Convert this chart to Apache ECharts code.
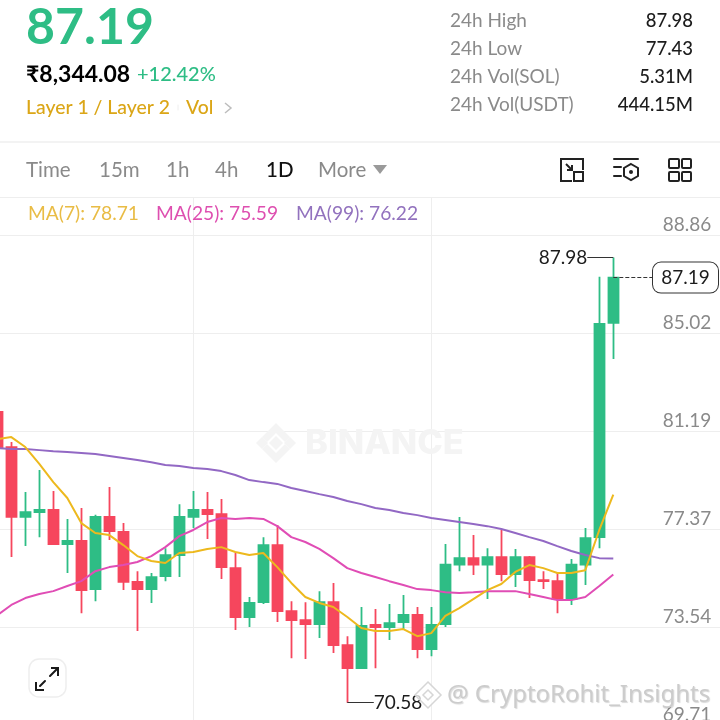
<!DOCTYPE html>
<html>
<head>
<meta charset="utf-8">
<style>html,body{margin:0;padding:0;background:#fff}#c{width:720px;height:720px}</style>
<script src="https://cdn.jsdelivr.net/npm/echarts@6/dist/echarts.min.js"></script>
</head>
<body>
<div id="c"></div>
<script>
const opens  = [81.94,80.57,77.84,78.03,78.11,76.78,76.90,75.02,77.84,77.25,75.30,75.02,75.53,76.35,77.84,78.11,77.95,75.84,73.93,74.51,76.74,74.16,73.81,73.65,74.51,72.83,71.93,73.62,73.54,73.73,74.01,72.68,73.65,75.98,76.23,75.98,76.27,75.61,76.27,75.37,75.33,74.63,75.98,77.05,85.42];
const closes = [80.57,77.84,78.03,78.11,76.78,76.90,74.98,77.84,77.29,75.30,75.02,75.49,76.35,77.84,78.11,77.95,75.88,73.93,74.48,76.74,74.16,73.81,73.65,74.51,72.83,71.93,73.58,73.54,73.69,74.01,72.68,73.62,75.98,76.23,75.98,76.27,75.61,76.27,75.37,75.33,74.63,75.98,77.01,85.38,87.19];
const lows   = [80.57,76.27,76.70,77.05,76.78,75.65,74.08,74.55,76.94,74.98,73.38,74.48,75.33,75.49,77.41,76.98,75.41,73.42,73.54,74.44,73.73,72.32,72.29,73.11,72.52,70.58,71.93,71.93,73.03,73.42,72.32,72.40,73.54,75.72,75.57,74.63,75.33,75.10,74.67,75.02,74.08,74.40,75.18,76.62,84.01];
const highs  = [81.94,80.77,78.81,79.67,78.85,77.76,78.19,77.92,79.01,77.60,75.72,75.65,76.62,78.34,78.85,78.81,78.54,76.43,74.71,77.05,77.52,74.55,74.51,74.94,75.26,73.18,74.32,74.24,74.44,74.79,74.32,74.32,76.78,77.84,77.13,76.62,77.33,76.59,76.31,75.72,75.65,76.20,77.41,87.22,87.98];
const ma7    = [80.88,80.96,80.57,79.91,79.20,78.58,77.60,77.21,77.13,76.74,76.31,76.12,76.04,76.43,76.47,76.59,76.66,76.47,76.35,76.43,75.88,75.26,74.71,74.48,74.32,73.93,73.50,73.38,73.38,73.46,73.18,73.30,73.97,74.28,74.63,74.98,75.22,75.69,75.96,75.84,75.65,75.65,75.76,77.33,78.71];
const ma25   = [74.00,74.40,74.67,74.83,74.94,75.14,75.33,75.72,75.88,75.96,76.08,76.31,76.66,77.09,77.33,77.64,77.80,77.76,77.80,77.76,77.48,77.05,76.86,76.59,76.23,75.84,75.65,75.49,75.33,75.18,75.02,74.98,74.90,74.87,74.90,74.94,74.94,74.94,74.83,74.71,74.59,74.59,74.71,75.14,75.59];
const ma99   = [80.53,80.49,80.49,80.45,80.41,80.38,80.34,80.30,80.22,80.14,80.06,79.98,79.87,79.83,79.75,79.71,79.63,79.48,79.28,79.20,79.13,78.97,78.85,78.73,78.62,78.46,78.34,78.19,78.11,77.99,77.91,77.80,77.72,77.64,77.56,77.48,77.37,77.21,77.05,76.90,76.70,76.51,76.35,76.23,76.22];
const tickLabels = ['69.71','73.54','77.37','81.19','85.02','88.86'];
const categories = [];
for (let d = 0; d < 53; d++) categories.push('D' + d);

const FONT = 'Lato';
const GREEN = '#2EBD85', RED = '#F6465D', GOLD = '#DBA617', GREY = '#8A8A8A', INK = '#1C1C1C';
const candles = opens.map((o, i) => [o, closes[i], lows[i], highs[i]]);

function txt(x, y, text, size, fill, weight, align) {
  return {type:'text', x, y, z:50, style:{text, fontFamily:FONT, fontSize:size, fill, fontWeight:weight||400,
    align:align||'left', verticalAlign:'middle'}};
}
function ln(x1,y1,x2,y2,stroke,w){return {type:'line',z:50,shape:{x1,y1,x2,y2},style:{stroke,lineWidth:w||2,lineCap:'round'}};}
function box(x,y,width,height,stroke,w,r,fill){return {type:'rect',z:50,shape:{x,y,width,height,r:r||0},style:{stroke,lineWidth:w||2,fill:fill||'none'}};}
function poly(points,fill,z){return {type:'polygon',z:z||1,shape:{points},style:{fill}};}
function pl(points,stroke,w){return {type:'polyline',z:50,shape:{points},style:{stroke,lineWidth:w||2,fill:'none'}};}

const wm = '#F4F4F4';
const graphics = [
  txt(26,28,'87.19',50,GREEN,700),
  txt(26,75,'₹8,344.08',23,'#000',700),
  txt(137,75,'+12.42%',20,GREEN,500),
  txt(26,108,'Layer 1 / Layer 2',19.4,GOLD,500),
  txt(186,108,'Vol',19.4,GOLD,500),
  ln(178,105,178,110,'#eeeeee',1),
  pl([[225,103],[231,108],[225,113]],'#BDBDBD',1.5),
  txt(450,21,'24h High',19,GREY),txt(450,49,'24h Low',19,GREY),txt(450,77,'24h Vol(SOL)',19,GREY),txt(450,105,'24h Vol(USDT)',19,GREY),
  txt(693,21,'87.98',18.5,INK,500,'right'),txt(693,49,'77.43',18.5,INK,500,'right'),txt(693,77,'5.31M',18.5,INK,500,'right'),txt(693,105,'444.15M',18.5,INK,500,'right'),
  ln(0,142,720,142,'#EFEFEF',1.5),
  txt(26,170,'Time',20.5,GREY),txt(99,170,'15m',20.5,GREY),txt(166,170,'1h',20.5,GREY),txt(215,170,'4h',20.5,GREY),
  txt(266,170,'1D',20.5,'#111',500),txt(318,170,'More',20.5,GREY),
  {type:'polygon',z:50,shape:{points:[[373,165],[387,165],[380,174]]},style:{fill:'#9A9A9A'}},
  // tool icons
  pl([[572,181],[561,181],[561,159],[583,159],[583,170]],'#222',2),
  box(574,172,9,9,'#222',2),
  pl([[566,164],[572,170]],'#222',2),pl([[572,165],[572,170],[567,170]],'#222',2),
  ln(614,159,638,159,'#222',2),ln(614,167,621,167,'#222',2),ln(614,176,621,176,'#222',2),
  {type:'polygon',z:50,shape:{points:[[631,164],[638,168],[638,176],[631,180],[624,176],[624,168]]},style:{stroke:'#222',lineWidth:2,fill:'none'}},
  {type:'circle',z:50,shape:{cx:631,cy:172,r:2},style:{fill:'#222'}},
  box(669,159,10,9,'#222',2,1),box(682,159,9,9,'#222',2,1),box(669,172,10,9,'#222',2,1),box(682,172,9,9,'#222',2,1),
  // legend
  txt(28,214,'MA(7): 78.71',19.2,'#E9BC45'),txt(156,214,'MA(25): 75.59',19.2,'#DE4FB0'),txt(296,214,'MA(99): 76.22',19.2,'#9272BE'),
  // Binance watermark
  poly([[276,423],[290,437],[285,442],[276,433],[267,442],[262,437]],wm),
  poly([[276,463],[290,449],[285,444],[276,453],[267,444],[262,449]],wm),
  poly([[276,436],[283,443],[276,450],[269,443]],wm),
  poly([[262,437],[268,443],[262,449],[256,443]],wm),
  poly([[290,437],[296,443],[290,449],[284,443]],wm),
  {type:'text',x:305,y:444,z:1,style:{text:'BINANCE',fontFamily:'Inter',fontWeight:800,fontSize:34.5,fill:wm,verticalAlign:'middle'}},
  // expand button
  box(29,659,37,38,'#EEEEEE',1.5,10,'#fff'),
  ln(40,686,45,681,'#1a1a1a',2),ln(50,676,57,669,'#1a1a1a',2),
  pl([[36,682],[36,690],[44,690]],'#1a1a1a',2),pl([[51,668],[58,668],[58,676]],'#1a1a1a',2),
  // author watermark
  {type:'polygon',z:60,shape:{points:[[428,682],[441,695],[428,708],[415,695]]},style:{fill:'rgba(255,255,255,.75)',stroke:'#D6D6D6',lineWidth:1.5}},
  {type:'polygon',z:60,shape:{points:[[428,690],[433,695],[428,700],[423,695]]},style:{fill:'rgba(255,255,255,.75)',stroke:'#D6D6D6',lineWidth:1.5}},
  {type:'text',x:447,y:695,z:60,style:{text:'@ CryptoRohit_Insights',fontFamily:'Noto Sans',fontSize:24,fill:'#CCCCCC',verticalAlign:'middle',
     textShadowColor:'rgba(0,0,0,.15)',textShadowBlur:1,textShadowOffsetX:1,textShadowOffsetY:1}}
];

const chart = echarts.init(document.getElementById('c'), null, {renderer:'canvas'});
chart.setOption({
  animation:false,
  backgroundColor:'#fff',
  grid:{left:-2.7, top:197, width:728, height:528, containLabel:false, outerBoundsMode:'none'},
  xAxis:{type:'category', data:categories, boundaryGap:false,
    axisLine:{show:false}, axisTick:{show:false}, axisLabel:{show:false},
    splitLine:{show:true, interval:(i)=>i===14||i===31, lineStyle:{color:'#EEEEEE',width:1}}},
  yAxis:{type:'value', position:'right', min:69.71, max:90.34, interval:3.83, scale:true,
    axisLine:{show:false}, axisTick:{show:false},
    axisLabel:{inside:true, margin:14, align:'right', verticalAlign:'bottom', color:'#8A8A8A', fontFamily:FONT, fontSize:19, lineHeight:20,
      formatter:(v,i)=>tickLabels[i]||''},
    splitLine:{show:true, lineStyle:{color:'#EEEEEE',width:1}}},
  graphic:graphics,
  series:[
    {type:'candlestick', data:candles, barWidth:11, z:3,
      itemStyle:{color:GREEN,color0:RED,borderColor:GREEN,borderColor0:RED,borderWidth:1.8},
      markLine:{silent:true, symbol:'none', label:{show:false}, animation:false,
        lineStyle:{color:'#333',width:1,type:'solid'},
        data:[
          [{coord:[42,87.98]},{coord:[44,87.98]}],
          [{coord:[25,70.58]},{coord:[27,70.58]}],
          [{coord:[44,87.19],lineStyle:{type:'dashed',color:'#333',width:1}},{coord:[47,87.19]}]
        ]},
      markPoint:{silent:true, symbol:'circle', symbolSize:0, animation:false,
        data:[
          {coord:[42,87.98],label:{show:true,position:'left',distance:0,offset:[2,0],backgroundColor:'#fff',formatter:'87.98',color:INK,fontFamily:FONT,fontSize:19}},
          {coord:[27,70.58],label:{show:true,position:'right',distance:0,offset:[-1.5,0],backgroundColor:'#fff',formatter:'70.58',color:INK,fontFamily:FONT,fontSize:19}},
          {coord:[49,87.19],label:{show:true,position:'inside',offset:[2.2,0],formatter:'87.19',color:INK,fontFamily:FONT,fontSize:19,
            backgroundColor:'#fff',borderColor:'#333',borderWidth:1,borderRadius:8,width:65,height:30,lineHeight:30,align:'center',verticalAlign:'middle'}}
        ]}
    },
    {type:'line', name:'MA(99)', data:ma99, showSymbol:false, z:4, lineStyle:{color:'#9268C4',width:2}, silent:true},
    {type:'line', name:'MA(25)', data:ma25, showSymbol:false, z:5, lineStyle:{color:'#E04DB5',width:2}, silent:true},
    {type:'line', name:'MA(7)', data:ma7, showSymbol:false, z:6, lineStyle:{color:'#EDB91E',width:2}, silent:true}
  ]
});
</script>
</body>
</html>
